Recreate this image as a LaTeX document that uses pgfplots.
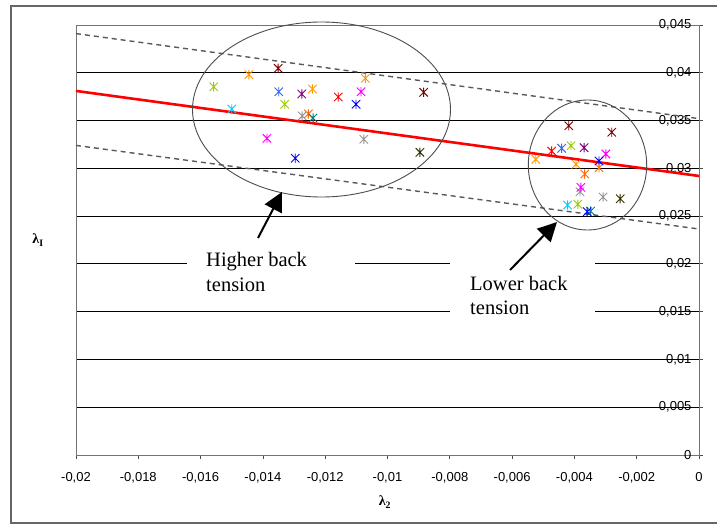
\documentclass[border=0pt]{standalone}
\usepackage{amsmath}
\usepackage{pgfplots}
\pgfplotsset{compat=1.18}
\usetikzlibrary{arrows.meta}
\usepackage{fontspec}
\setmainfont{Liberation Sans}
\newfontfamily\seriffont{Liberation Serif}
\definecolor{cyg}{HTML}{99CC00}
\definecolor{cor1}{HTML}{FF9900}
\definecolor{cor2}{HTML}{FF6600}
\definecolor{cdred}{HTML}{800000}
\definecolor{ccyan}{HTML}{00CCFF}
\definecolor{ccblue}{HTML}{3366FF}
\definecolor{cpurp}{HTML}{800080}
\definecolor{cgray}{HTML}{969696}
\definecolor{cteal}{HTML}{008080}
\definecolor{cred}{HTML}{FF0000}
\definecolor{cmag}{HTML}{FF00FF}
\definecolor{cblue}{HTML}{0000FF}
\definecolor{colive}{HTML}{333300}
\pgfdeclareplotmark{xstar}{%
  \pgfpathmoveto{\pgfqpoint{-\pgfplotmarksize}{-\pgfplotmarksize}}%
  \pgfpathlineto{\pgfqpoint{\pgfplotmarksize}{\pgfplotmarksize}}%
  \pgfpathmoveto{\pgfqpoint{-\pgfplotmarksize}{\pgfplotmarksize}}%
  \pgfpathlineto{\pgfqpoint{\pgfplotmarksize}{-\pgfplotmarksize}}%
  \pgfpathmoveto{\pgfqpoint{0pt}{-1.1\pgfplotmarksize}}%
  \pgfpathlineto{\pgfqpoint{0pt}{1.1\pgfplotmarksize}}%
  \pgfusepathqstroke}
\begin{document}
\begin{tikzpicture}[x=1pt,y=1pt]
\useasboundingbox (-76,-70) rectangle (641,455);
\draw[line width=1.2pt, black!60] (-65,-68) rectangle (643,449);
\begin{axis}[
  at={(0pt,0pt)}, anchor=south west,
  scale only axis, width=623pt, height=430pt,
  xmin=-0.02, xmax=0, ymin=0, ymax=0.045,
  scaled x ticks=false, scaled y ticks=false,
  axis line style={black!55, line width=0.8pt},
  xtick={-0.02,-0.018,-0.016,-0.014,-0.012,-0.01,-0.008,-0.006,-0.004,-0.002,0},
  xticklabels={{-0,02},{-0,018},{-0,016},{-0,014},{-0,012},{-0,01},{-0,008},{-0,006},{-0,004},{-0,002},{0}},
  ytick={0,0.005,0.01,0.015,0.02,0.025,0.03,0.035,0.04,0.045},
  yticklabels={{0},{0,005},{0,01},{0,015},{0,02},{0,025},{0,03},{0,035},{0,04},{0,045}},
  xtick pos=bottom, ytick pos=right, yticklabel pos=right,
  tick align=outside, major tick length=4pt,
  tick style={black!70, line width=0.8pt},
  ticklabel style={font=\fontsize{13}{15}\selectfont},
  xticklabel style={yshift=-10pt},
  yticklabel style={anchor=east, xshift=-8pt},
  ymajorgrids, grid style={black, line width=0.8pt},
  clip=false,
  mark size=4.2pt,
]
\addplot[cred, line width=2.6pt] coordinates {(-0.02,0.0381) (0,0.0292)};
\addplot[black!65, line width=1.4pt, dash pattern=on 5pt off 4pt] coordinates {(-0.02,0.0441) (0,0.0352)};
\addplot[black!65, line width=1.4pt, dash pattern=on 5pt off 4pt] coordinates {(-0.02,0.0324) (0,0.02365)};
\addplot[only marks, mark=xstar, cyg, line width=0.9pt] coordinates {(-0.01558,0.03854) (-0.01330,0.03670) (-0.00411,0.03237) (-0.00389,0.02624)};
\addplot[only marks, mark=xstar, cor1, line width=0.9pt] coordinates {(-0.01445,0.03980) (-0.01241,0.03830) (-0.01071,0.03942) (-0.00524,0.03094) (-0.00395,0.03042)};
\addplot[only marks, mark=xstar, cor2, line width=0.9pt] coordinates {(-0.01254,0.03569) (-0.00321,0.03007) (-0.00367,0.02941)};
\addplot[only marks, mark=xstar, cdred, line width=0.9pt] coordinates {(-0.01351,0.04047) (-0.00884,0.03796) (-0.00418,0.03446) (-0.00280,0.03377)};
\addplot[only marks, mark=xstar, ccyan, line width=0.9pt] coordinates {(-0.01500,0.03621) (-0.00422,0.02616)};
\addplot[only marks, mark=xstar, ccblue, line width=0.9pt] coordinates {(-0.01349,0.03802) (-0.00441,0.03210)};
\addplot[only marks, mark=xstar, cpurp, line width=0.9pt] coordinates {(-0.01275,0.03778) (-0.00369,0.03216)};
\addplot[only marks, mark=xstar, cgray, line width=0.9pt] coordinates {(-0.01274,0.03548) (-0.01076,0.03304) (-0.00382,0.02755) (-0.00308,0.02700)};
\addplot[only marks, mark=xstar, cteal, line width=0.9pt] coordinates {(-0.01239,0.03527) (-0.00348,0.02553)};
\addplot[only marks, mark=xstar, cred, line width=0.9pt] coordinates {(-0.01158,0.03746) (-0.00473,0.03181)};
\addplot[only marks, mark=xstar, cmag, line width=0.9pt] coordinates {(-0.01085,0.03802) (-0.01387,0.03314) (-0.00299,0.03150) (-0.00379,0.02801)};
\addplot[only marks, mark=xstar, cblue, line width=0.9pt] coordinates {(-0.01101,0.03670) (-0.01296,0.03105) (-0.00321,0.03077) (-0.00359,0.02546)};
\addplot[only marks, mark=xstar, colive, line width=0.9pt] coordinates {(-0.00896,0.03168) (-0.00253,0.02682)};
\end{axis}
% ellipses
\draw[black!70, line width=0.9pt] (245.5,345.5) ellipse [x radius=129, y radius=87.5];
\draw[black!70, line width=0.9pt] (511.5,290) ellipse [x radius=59.2, y radius=65];
% text boxes
\fill[white] (111,155) rectangle (279,212);
\fill[white] (374,130) rectangle (519,197);
\draw[line width=2pt, -{Triangle[length=19pt,width=19pt]}] (182,217) -- (206,263);
\draw[line width=2pt, -{Triangle[length=19pt,width=19pt]}] (434,185) -- (481,233);
\node[anchor=base west, inner sep=0pt, font=\seriffont\fontsize{20.5}{24}\selectfont] at (130,188) {Higher back};
\node[anchor=base west, inner sep=0pt, font=\seriffont\fontsize{20.5}{24}\selectfont] at (130,163) {tension};
\node[anchor=base west, inner sep=0pt, font=\seriffont\fontsize{20.5}{24}\selectfont] at (394,164) {Lower back};
\node[anchor=base west, inner sep=0pt, font=\seriffont\fontsize{20.5}{24}\selectfont] at (394,140) {tension};
% axis labels
\node at (-38,215) {\seriffont\bfseries\fontsize{14}{16}\selectfont λ\textsubscript{I}};
\node at (309,-47) {\seriffont\bfseries\fontsize{14}{16}\selectfont λ\textsubscript{2}};
\end{tikzpicture}
\end{document}
